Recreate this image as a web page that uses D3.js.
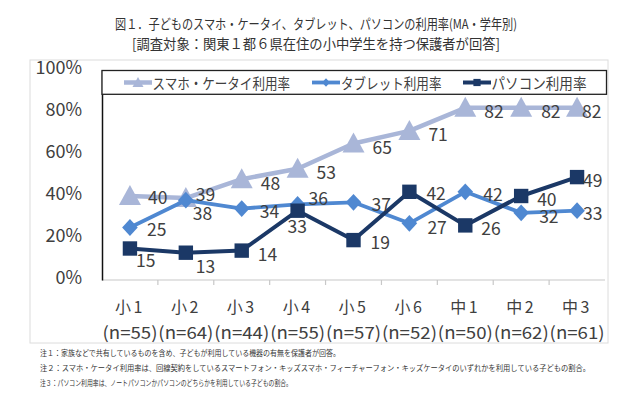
<!DOCTYPE html>
<html>
<head>
<meta charset="utf-8">
<script src="https://cdn.jsdelivr.net/npm/d3@7"></script>
<style>
  html, body { margin: 0; padding: 0; background: #fff; }
  svg { display: block; font-family: "Noto Sans CJK JP", "Noto Sans", sans-serif; }
</style>
</head>
<body>
<svg id="chart" width="640" height="406"></svg>
<script>
const titleLines = ["図１．子どものスマホ・ケータイ、タブレット、パソコンの利用率(MA・学年別)",
                    "[調査対象：関東１都６県在住の小中学生を持つ保護者が回答]"];
const categories = ["小1", "小2", "小3", "小4", "小5", "小6", "中1", "中2", "中3"];
const sampleSizes = ["(n=55)", "(n=64)", "(n=44)", "(n=55)", "(n=57)", "(n=52)", "(n=50)", "(n=62)", "(n=61)"];
const seriesNames = ["スマホ・ケータイ利用率", "タブレット利用率", "パソコン利用率"];
const smartphone = [40, 39, 48, 53, 65, 71, 82, 82, 82];
const tablet = [25, 38, 34, 36, 37, 27, 42, 32, 33];
const pc = [15, 13, 14, 33, 19, 42, 26, 40, 49];
const yTicks = [0, 20, 40, 60, 80, 100];
const notes = ["注１：家族などで共有しているものを含め、子どもが利用している機器の有無を保護者が回答。",
               "注２：スマホ・ケータイ利用率は、回線契約をしているスマートフォン・キッズスマホ・フィーチャーフォン・キッズケータイのいずれかを利用している子どもの割合。",
               "注３：パソコン利用率は、ノートパソコンかパソコンのどちらかを利用している子どもの割合。"];

// label placement offsets (layout only)
const labelOffsets = [
  [[18,0],[10,-5],[19,3],[19,3],[19,3],[19,3],[19,3],[20,3],[5,3]],
  [[17,1],[7,12.5],[18,1.5],[11,-7],[18,1],[18,3],[18,1.5],[18,3],[6,2]],
  [[6,11],[10,13],[16,3],[-10,15],[17,1],[17,1],[16,2],[16,2],[6,2]]
];

const svg = d3.select("#chart");
const textColor = "#404040";
const colors = ["#A9B6D8", "#4F88D1", "#1B3866"];
const lineWidths = [4.5, 3.8, 4];
const seriesData = [smartphone, tablet, pc];

// outer frame
svg.append("rect").attr("x", 30).attr("y", 60).attr("width", 578).attr("height", 283)
  .attr("fill", "#fff").attr("stroke", "#dcdcdc").attr("stroke-width", 1);

// title
svg.append("text").attr("x", 115).attr("y", 23).attr("dominant-baseline", "central")
  .attr("font-size", 13.5).attr("fill", "#333")
  .attr("textLength", 402).attr("lengthAdjust", "spacingAndGlyphs").text(titleLines[0]);
svg.append("text").attr("x", 132).attr("y", 43).attr("dominant-baseline", "central")
  .attr("font-size", 14).attr("fill", "#333")
  .attr("textLength", 368).attr("lengthAdjust", "spacingAndGlyphs").text(titleLines[1]);

const x = d3.scaleBand().domain(categories).range([102, 605]);
const y = d3.scaleLinear().domain([0, 100]).range([280, 70]);
const cx = c => x(c) + x.bandwidth() / 2;

// x axis line + boundary ticks
svg.append("line").attr("x1", 102).attr("x2", 605).attr("y1", y(0)).attr("y2", y(0))
  .attr("stroke", "#c8c8c8").attr("stroke-width", 1.2);
svg.selectAll(".xtick").data(categories.slice(1)).enter().append("line")
  .attr("x1", d => x(d)).attr("x2", d => x(d))
  .attr("y1", y(0)).attr("y2", y(0) + 5)
  .attr("stroke", "#c8c8c8").attr("stroke-width", 1.2);

// y axis
const yAxis = d3.axisLeft(y).tickValues(yTicks).tickSize(0).tickPadding(0)
  .tickFormat(d => d + "%");
const yg = svg.append("g").attr("transform", "translate(102,0)").call(yAxis);
yg.select(".domain").attr("stroke", "#111").attr("stroke-width", 1.5);
yg.selectAll("text").attr("x", -20).attr("dy", "0.32em").attr("y", -2)
  .attr("font-size", 18).attr("fill", textColor)
  .attr("font-family", "'Noto Sans CJK JP', sans-serif");

// category labels
svg.selectAll(".cat").data(categories).enter().append("text")
  .attr("x", d => cx(d)).attr("y", 306).attr("text-anchor", "middle")
  .attr("dominant-baseline", "central").attr("font-size", 16).attr("letter-spacing", 2.5)
  .attr("fill", textColor).text(d => d);
svg.selectAll(".nsz").data(sampleSizes).enter().append("text")
  .attr("x", (d, i) => x(categories[i]) + 0.5).attr("y", 331)
  .attr("dominant-baseline", "central").attr("font-size", 17)
  .attr("textLength", 55).attr("lengthAdjust", "spacingAndGlyphs")
  .attr("fill", textColor).text(d => d);

// markers
function markerPath(type, s) {
  if (type === 0) { // triangle
    const w = s * 1.1, h = s;
    return `M0,${-h * 0.55}L${w / 2},${h * 0.45}L${-w / 2},${h * 0.45}Z`;
  } else if (type === 1) { // diamond
    const w = s * 0.78, h = s * 0.84;
    return `M0,${-h / 2}L${w / 2},0L0,${h / 2}L${-w / 2},0Z`;
  } else { // square
    const a = s * 0.72;
    return `M${-a / 2},${-a / 2}h${a}v${a}h${-a}Z`;
  }
}

const line = d3.line().x((d, i) => cx(categories[i])).y(d => y(d));
seriesData.forEach((vals, si) => {
  const g = svg.append("g");
  g.append("path").datum(vals).attr("d", line).attr("fill", "none")
    .attr("stroke", colors[si]).attr("stroke-width", lineWidths[si]).attr("stroke-linejoin", "round");
  g.selectAll("path.m").data(vals).enter().append("path").attr("class", "m")
    .attr("transform", (d, i) => `translate(${cx(categories[i])},${y(d)})`)
    .attr("d", markerPath(si, 20)).attr("fill", colors[si]);
});

// data labels
seriesData.forEach((vals, si) => {
  svg.selectAll(null).data(vals).enter().append("text")
    .attr("x", (d, i) => cx(categories[i]) + labelOffsets[si][i][0])
    .attr("y", (d, i) => y(d) + labelOffsets[si][i][1])
    .attr("dominant-baseline", "central").attr("font-size", 17.5)
    .attr("fill", textColor).text(d => d);
});

// legend
svg.append("rect").attr("x", 102).attr("y", 70.5).attr("width", 504.5).attr("height", 23.8)
  .attr("fill", "#fff").attr("stroke", "#222").attr("stroke-width", 1.3);
const legendItems = [
  { sx: 124, tx: 152.5, tw: 137.5 },
  { sx: 312, tx: 341, tw: 100.5 },
  { sx: 463, tx: 491.5, tw: 95 }
];
legendItems.forEach((it, si) => {
  const ly = 82.5;
  svg.append("line").attr("x1", it.sx).attr("x2", it.sx + 28).attr("y1", ly).attr("y2", ly)
    .attr("stroke", colors[si]).attr("stroke-width", lineWidths[si]);
  svg.append("path").attr("transform", `translate(${it.sx + 14},${ly})`)
    .attr("d", markerPath(si, 10)).attr("fill", colors[si]);
  svg.append("text").attr("x", it.tx).attr("y", ly).attr("dominant-baseline", "central")
    .attr("font-size", 15).attr("fill", textColor)
    .attr("textLength", it.tw).attr("lengthAdjust", "spacingAndGlyphs").text(seriesNames[si]);
});

// notes
const noteWidths = [300, 550, 252];
notes.forEach((n, i) => {
  svg.append("text").attr("x", 40).attr("y", 352 + i * 15.3).attr("dominant-baseline", "central")
    .attr("font-size", 7.6).attr("fill", "#333")
    .attr("textLength", noteWidths[i]).attr("lengthAdjust", "spacingAndGlyphs").text(n);
});
</script>
</body>
</html>
